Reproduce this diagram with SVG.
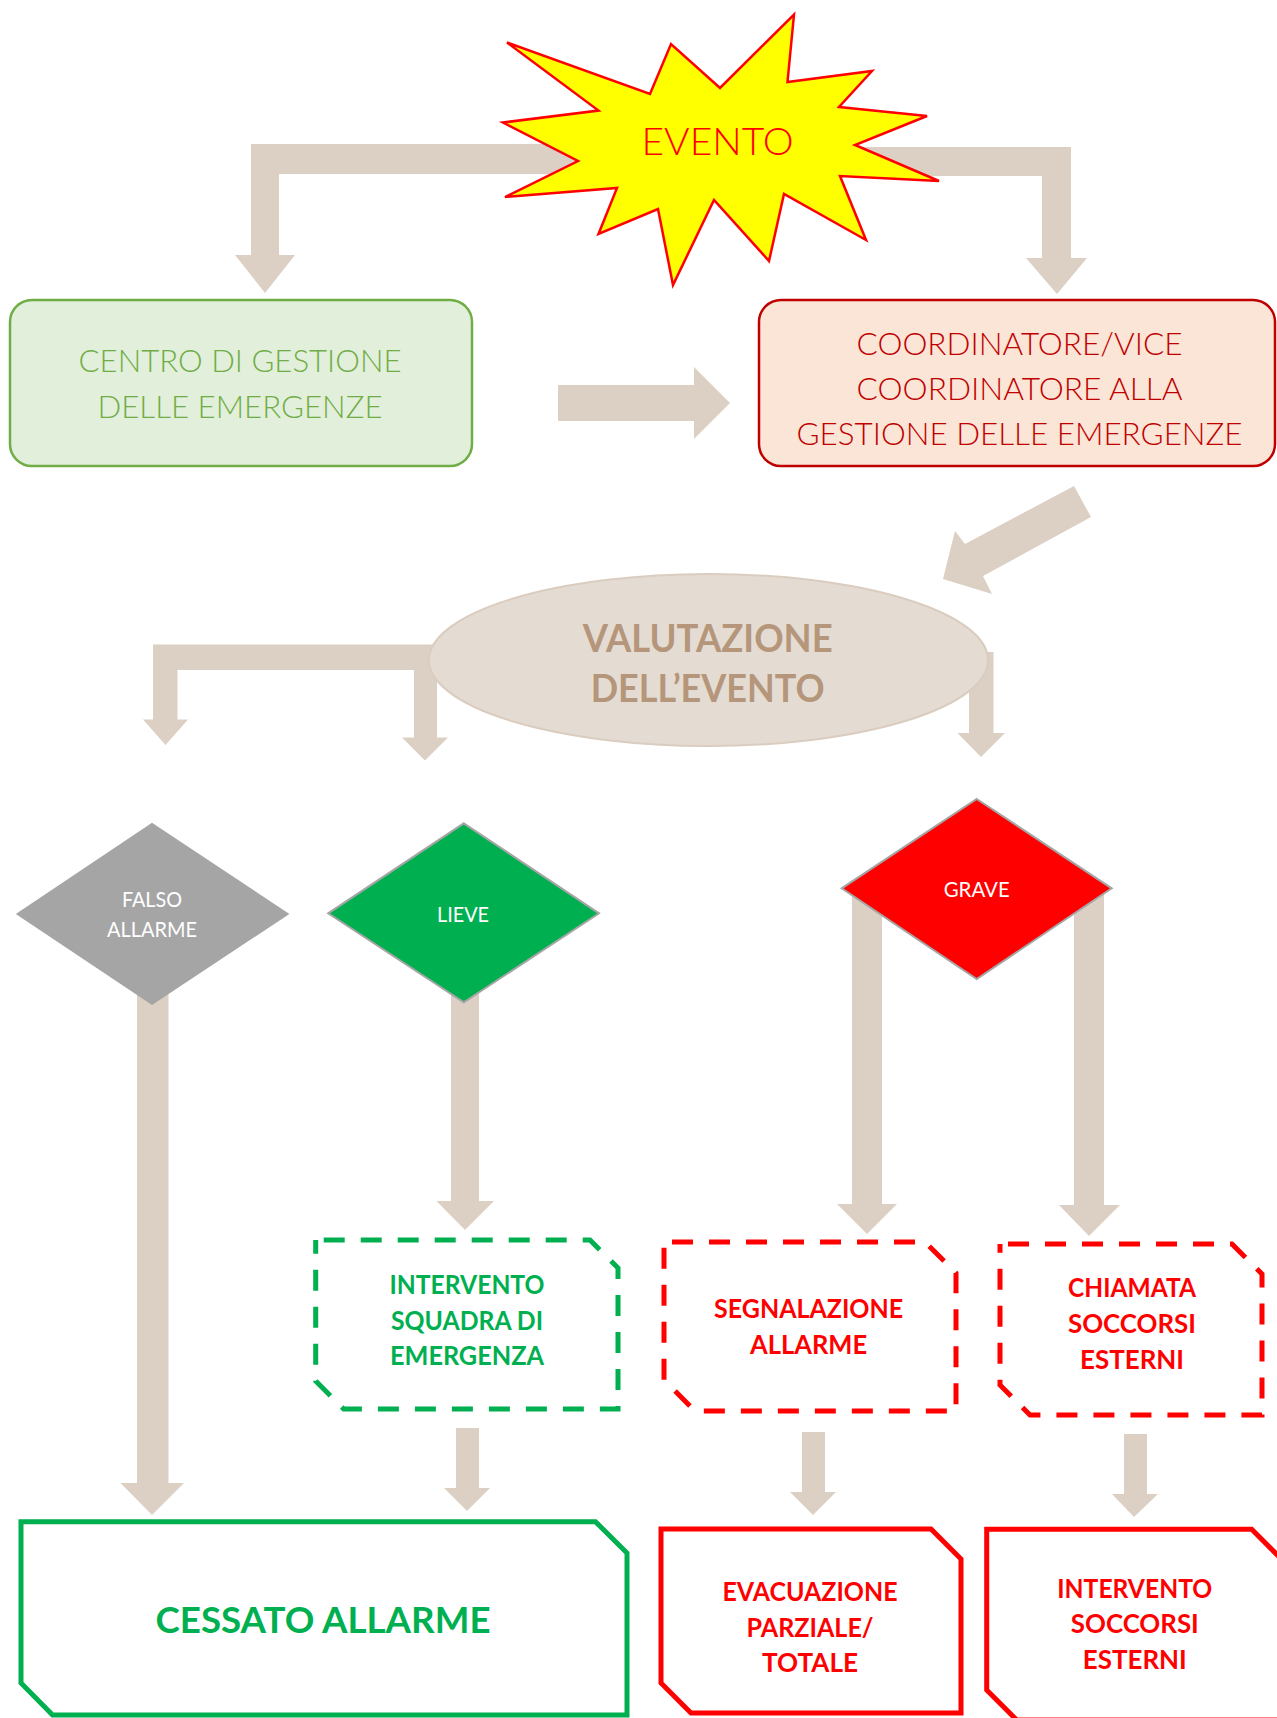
<svg xmlns="http://www.w3.org/2000/svg" width="1277" height="1718" viewBox="0 0 1277 1718">
<style>
.conn{fill:#DCCFC4;stroke:none}
.light{font-family:Lato,"Liberation Sans",sans-serif;font-weight:300;text-anchor:middle}
.reg{font-family:Lato,"Liberation Sans",sans-serif;font-weight:400;text-anchor:middle;fill:#FFFFFF;font-size:20.5px}
.bold{font-family:Lato,"Liberation Sans",sans-serif;font-weight:700;text-anchor:middle;font-size:26px}
.dg{fill:none;stroke:#00B050;stroke-width:5;stroke-dasharray:21 16;stroke-dashoffset:-8}
.dr{fill:none;stroke:#FF0000;stroke-width:5;stroke-dasharray:21 16;stroke-dashoffset:-8}
.sg{fill:#FFFFFF;stroke:#00B050;stroke-width:5}
.sr{fill:#FFFFFF;stroke:#FF0000;stroke-width:5}
.tg{fill:#00B050}
.tr{fill:#FF0000}
</style>
<rect x="0" y="0" width="1277" height="1718" fill="#FFFFFF"/>
<g id="connectors">
<polygon class="conn" points="620,144 251,144 251,255 235,255 265,293 295,255 279,255 279,174 620,174"/>
<polygon class="conn" points="820,147 1071,147 1071,258 1087,258 1057,294 1026,258 1042,258 1042,176 820,176"/>
<polygon class="conn" points="558,385 694,385 694,367 730,403 694,439 694,421 558,421"/>
<polygon class="conn" points="1074,486 1091,517 983,576 992,594 943,579 955,531 965,544"/>
<polygon class="conn" points="437,644.5 153,644.5 153,719.5 143,719.5 165.5,745 188,719.5 177.5,719.5 177.5,670 414,670 414,737.5 402,737.5 425,760.5 448,737.5 437,737.5"/>
<polygon class="conn" points="969,652 993.5,652 993.5,733 1005,733 981,757 957.5,733 969,733"/>
<polygon class="conn" points="137,980 168.5,980 168.5,1483 184,1483 152,1515 120.5,1483 137,1483"/>
<polygon class="conn" points="451,980 479,980 479,1201 494,1201 465,1230 436.5,1201 451,1201"/>
<polygon class="conn" points="852,890 882,890 882,1204 897,1204 867,1234 837,1204 852,1204"/>
<polygon class="conn" points="1074,890 1104,890 1104,1205 1120,1205 1089,1236 1059,1205 1074,1205"/>
<polygon class="conn" points="456,1428 479,1428 479,1488 490,1488 467,1511 444,1488 456,1488"/>
<polygon class="conn" points="802,1432 825,1432 825,1492 836,1492 813,1515 790,1492 802,1492"/>
<polygon class="conn" points="1124,1434 1147,1434 1147,1494 1158,1494 1134,1517 1112,1494 1124,1494"/>
</g>
<g id="evento">
<polygon points="794,14.5 787.5,82 872,71 839,107 927,116 855,145 939,181 840,176 866,240 784,194 769,261 714,200 673,285 658,209 598.5,234 617,188 505,197 578,161 503,122.5 598.5,110.6 507,42.5 650,94 671,44 720,88" fill="#FFFF00" stroke="#FF0000" stroke-width="2.5" stroke-linejoin="miter"/>
<text class="light" x="717.5" y="155" font-size="37" fill="#FF0000" textLength="152" lengthAdjust="spacingAndGlyphs">EVENTO</text>
</g>
<g id="centro">
<rect x="10" y="300" width="462" height="166" rx="22" fill="#E2EFDA" stroke="#70AD47" stroke-width="2.5"/>
<text class="light" x="240" y="372" font-size="32" fill="#70AD47" textLength="323" lengthAdjust="spacingAndGlyphs">CENTRO DI GESTIONE</text>
<text class="light" x="240" y="418" font-size="32" fill="#70AD47" textLength="285" lengthAdjust="spacingAndGlyphs">DELLE EMERGENZE</text>
</g>
<g id="coordinatore">
<rect x="759" y="300" width="516" height="166" rx="22" fill="#FBE5D6" stroke="#C00000" stroke-width="2.5"/>
<text class="light" x="1019.5" y="355" font-size="31.5" fill="#C00000" textLength="326" lengthAdjust="spacingAndGlyphs">COORDINATORE/VICE</text>
<text class="light" x="1019.5" y="400" font-size="31.5" fill="#C00000" textLength="326" lengthAdjust="spacingAndGlyphs">COORDINATORE ALLA</text>
<text class="light" x="1019.5" y="445" font-size="31.5" fill="#C00000" textLength="446" lengthAdjust="spacingAndGlyphs">GESTIONE DELLE EMERGENZE</text>
</g>
<g id="valutazione">
<ellipse cx="708.5" cy="660" rx="279.5" ry="86" fill="#E4DCD3" stroke="#DACCBF" stroke-width="2"/>
<text class="bold" x="707.7" y="651.7" fill="#B5967A" style="font-size:38.6px" textLength="250" lengthAdjust="spacingAndGlyphs">VALUTAZIONE</text>
<text class="bold" x="707.7" y="701.7" fill="#B5967A" style="font-size:38.6px" textLength="234" lengthAdjust="spacingAndGlyphs">DELL’EVENTO</text>
</g>
<g id="falso">
<polygon points="152,822.7 289.4,914 152,1005 15.8,914" fill="#A5A5A5"/>
<text class="reg" x="152" y="907.3" textLength="60" lengthAdjust="spacingAndGlyphs">FALSO</text>
<text class="reg" x="152" y="936.7" textLength="90" lengthAdjust="spacingAndGlyphs">ALLARME</text>
</g>
<g id="lieve">
<polygon points="463.8,823.3 599,913.3 463.8,1002.3 328.2,913.3" fill="#00B050" stroke="#A5A5A5" stroke-width="2"/>
<text class="reg" x="463" y="921.7" textLength="52" lengthAdjust="spacingAndGlyphs">LIEVE</text>
</g>
<g id="grave">
<polygon points="976.7,799 1111.7,888.3 976.7,979 841.7,888.3" fill="#FF0000" stroke="#A5A5A5" stroke-width="2"/>
<text class="reg" x="976.7" y="896.7" textLength="66" lengthAdjust="spacingAndGlyphs">GRAVE</text>
</g>
<g id="intervento-squadra">
<polygon class="dg" points="315.7,1240 590,1240 618,1268 618,1409 343.7,1409 315.7,1381"/>
<text class="bold tg" x="467" y="1294" textLength="155" lengthAdjust="spacingAndGlyphs">INTERVENTO</text>
<text class="bold tg" x="467" y="1330" textLength="152" lengthAdjust="spacingAndGlyphs">SQUADRA DI</text>
<text class="bold tg" x="467" y="1365" textLength="154" lengthAdjust="spacingAndGlyphs">EMERGENZA</text>
</g>
<g id="segnalazione">
<polygon class="dr" points="664,1242 925,1242 956,1273 956,1411 695,1411 664,1380"/>
<text class="bold tr" x="808.6" y="1318" textLength="189" lengthAdjust="spacingAndGlyphs">SEGNALAZIONE</text>
<text class="bold tr" x="808.6" y="1354" textLength="117" lengthAdjust="spacingAndGlyphs">ALLARME</text>
</g>
<g id="chiamata">
<polygon class="dr" points="1000,1244 1232,1244 1262,1274 1262,1415 1030,1415 1000,1385"/>
<text class="bold tr" x="1132" y="1297" textLength="128" lengthAdjust="spacingAndGlyphs">CHIAMATA</text>
<text class="bold tr" x="1132" y="1333" textLength="128" lengthAdjust="spacingAndGlyphs">SOCCORSI</text>
<text class="bold tr" x="1132" y="1369" textLength="104" lengthAdjust="spacingAndGlyphs">ESTERNI</text>
</g>
<g id="cessato">
<polygon class="sg" points="21,1521.7 595.5,1521.7 627,1553 627,1715 52.6,1715 21,1683"/>
<text class="bold tg" x="323" y="1632.7" style="font-size:37px" textLength="335" lengthAdjust="spacingAndGlyphs">CESSATO ALLARME</text>
</g>
<g id="evacuazione">
<polygon class="sr" points="661,1529 931,1529 961,1559 961,1713 691,1713 661,1683"/>
<text class="bold tr" x="810" y="1600.6" textLength="175" lengthAdjust="spacingAndGlyphs">EVACUAZIONE</text>
<text class="bold tr" x="810" y="1637" textLength="127" lengthAdjust="spacingAndGlyphs">PARZIALE/</text>
<text class="bold tr" x="810" y="1671.6" textLength="96" lengthAdjust="spacingAndGlyphs">TOTALE</text>
</g>
<g id="intervento-soccorsi">
<polygon class="sr" points="986.7,1529.3 1251.7,1529.3 1282,1559.6 1282,1720 1016.7,1720 986.7,1690"/>
<text class="bold tr" x="1134.8" y="1598.3" textLength="155" lengthAdjust="spacingAndGlyphs">INTERVENTO</text>
<text class="bold tr" x="1134.8" y="1633.3" textLength="128" lengthAdjust="spacingAndGlyphs">SOCCORSI</text>
<text class="bold tr" x="1134.8" y="1669" textLength="104" lengthAdjust="spacingAndGlyphs">ESTERNI</text>
</g>
</svg>
